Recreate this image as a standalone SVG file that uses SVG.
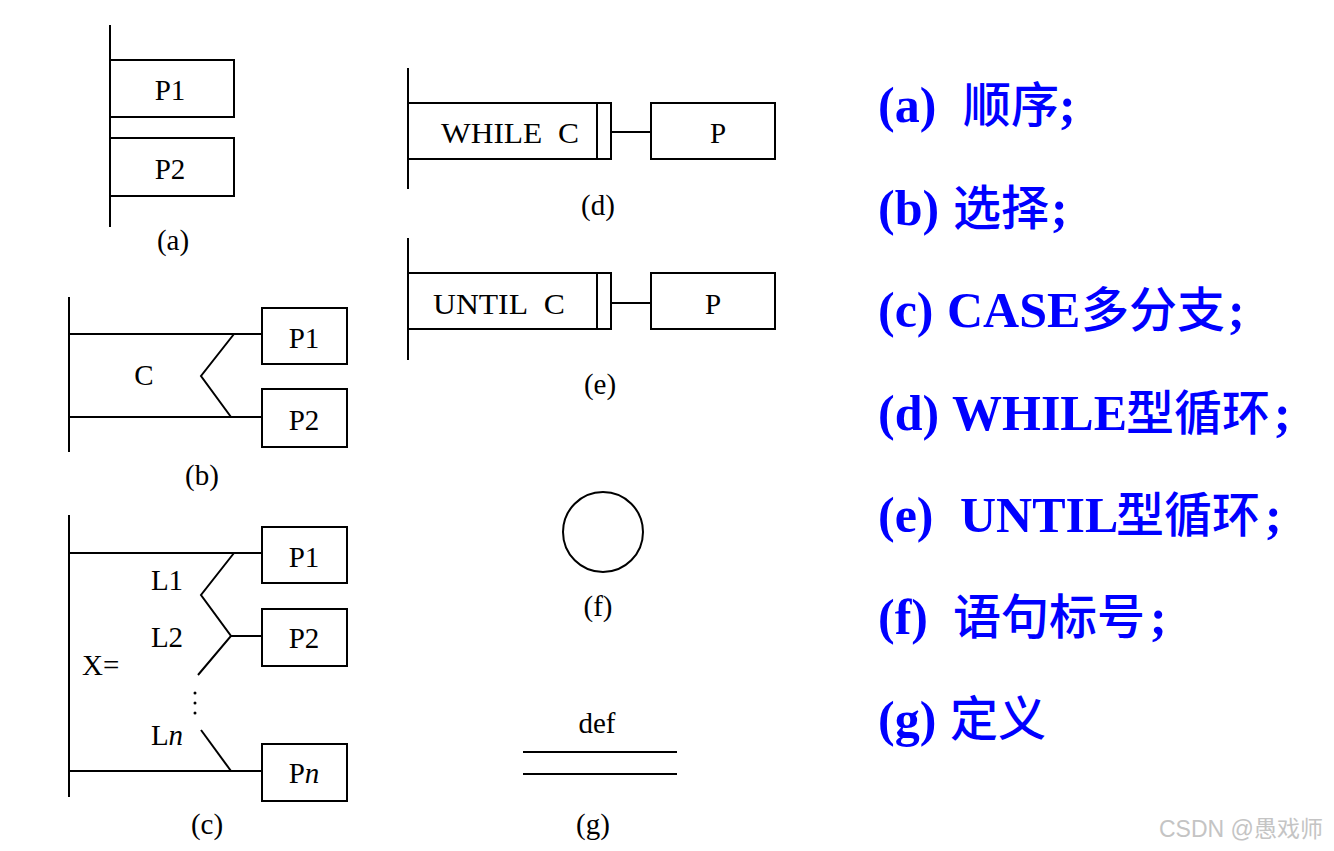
<svg xmlns="http://www.w3.org/2000/svg" width="1334" height="851" viewBox="0 0 1334 851">
<style>
.ln{stroke:#000;stroke-width:2;fill:none}
.bx{stroke:#000;stroke-width:2;fill:#fff}
.t{font-family:"Liberation Serif","Times New Roman",serif;fill:#000;font-size:29px}
.m{text-anchor:middle}
.lg{font-family:"Liberation Serif","Times New Roman",serif;font-size:50px;font-weight:bold;fill:#0000ff}
.cj{font-family:"Noto Sans CJK SC","Noto Sans CJK TC",sans-serif;font-weight:500;font-size:48px}
.wm{font-family:"Liberation Sans","Noto Sans CJK SC",sans-serif;font-size:23px;fill:#c4c4c4}
</style>
<rect width="1334" height="851" fill="#fff"/>

<g id="connectors">
  <line class="ln" x1="110" y1="25" x2="110" y2="227"/>
  <line class="ln" x1="69" y1="297" x2="69" y2="452"/>
  <line class="ln" x1="69" y1="334" x2="262" y2="334"/>
  <line class="ln" x1="69" y1="417" x2="262" y2="417"/>
  <polyline class="ln" points="234,334 201,376 231,417"/>
  <line class="ln" x1="69" y1="515" x2="69" y2="797"/>
  <line class="ln" x1="69" y1="553" x2="262" y2="553"/>
  <line class="ln" x1="69" y1="771" x2="262" y2="771"/>
  <polyline class="ln" points="234,553 201,595 231,636 198,675"/>
  <line class="ln" x1="231" y1="636" x2="262" y2="636"/>
  <line class="ln" x1="201" y1="730" x2="231" y2="771"/>
  <line class="ln" x1="408" y1="68" x2="408" y2="189"/>
  <line class="ln" x1="611" y1="132" x2="651" y2="132"/>
  <line class="ln" x1="408" y1="238" x2="408" y2="360"/>
  <line class="ln" x1="611" y1="303" x2="651" y2="303"/>
</g>

<g id="a">
  <rect class="bx" x="110" y="60" width="124" height="57"/>
  <text class="t m" x="170" y="100">P1</text>
  <rect class="bx" x="110" y="138" width="124" height="58"/>
  <text class="t m" x="170" y="179">P2</text>
  <text class="t m" x="173" y="250">(a)</text>
</g>

<g id="b">
  <text class="t m" x="144" y="385">C</text>
  <rect class="bx" x="262" y="308" width="85" height="56"/>
  <text class="t m" x="304" y="348">P1</text>
  <rect class="bx" x="262" y="389" width="85" height="58"/>
  <text class="t m" x="304" y="430">P2</text>
  <text class="t m" x="202" y="485">(b)</text>
</g>

<g id="c">
  <text class="t m" x="167" y="590">L1</text>
  <text class="t m" x="167" y="647">L2</text>
  <text class="t" x="82" y="675">X=</text>
  <circle cx="195" cy="693" r="1.5" fill="#000"/>
  <circle cx="195" cy="703" r="1.5" fill="#000"/>
  <circle cx="195" cy="713" r="1.5" fill="#000"/>
  <text class="t m" x="167" y="745">L<tspan font-style="italic">n</tspan></text>
  <rect class="bx" x="262" y="527" width="85" height="56"/>
  <text class="t m" x="304" y="567">P1</text>
  <rect class="bx" x="262" y="609" width="85" height="57"/>
  <text class="t m" x="304" y="648">P2</text>
  <rect class="bx" x="262" y="744" width="85" height="57"/>
  <text class="t m" x="304" y="783">P<tspan font-style="italic">n</tspan></text>
  <text class="t m" x="207" y="834">(c)</text>
</g>

<g id="d">
  <rect class="bx" x="408" y="103" width="203" height="56"/>
  <line class="ln" x1="597" y1="103" x2="597" y2="159"/>
  <text class="t" x="441" y="143" textLength="138" lengthAdjust="spacingAndGlyphs">WHILE&#160; C</text>
  <rect class="bx" x="651" y="103" width="124" height="56"/>
  <text class="t m" x="718" y="143">P</text>
  <text class="t m" x="598" y="215">(d)</text>
</g>

<g id="e">
  <rect class="bx" x="408" y="273" width="203" height="56"/>
  <line class="ln" x1="597" y1="273" x2="597" y2="329"/>
  <text class="t" x="433" y="314" textLength="132" lengthAdjust="spacingAndGlyphs">UNTIL&#160; C</text>
  <rect class="bx" x="651" y="273" width="124" height="56"/>
  <text class="t m" x="713" y="314">P</text>
  <text class="t m" x="600" y="394">(e)</text>
</g>

<g id="f">
  <circle class="ln" cx="603" cy="532" r="40"/>
  <text class="t m" x="598" y="616">(f)</text>
</g>

<g id="g">
  <text class="t m" x="597" y="733">def</text>
  <line class="ln" x1="523" y1="752" x2="677" y2="752"/>
  <line class="ln" x1="523" y1="774" x2="677" y2="774"/>
  <text class="t m" x="593" y="834">(g)</text>
</g>

<g id="legend">
  <text class="lg" x="878" y="122">(a)<tspan class="cj" x="963">顺序</tspan><tspan x="1059">;</tspan></text>
  <text class="lg" x="878" y="225">(b)<tspan class="cj" x="953">选择</tspan><tspan x="1051">;</tspan></text>
  <text class="lg" x="878" y="327">(c)<tspan x="947">CASE</tspan><tspan class="cj" x="1081">多分支</tspan><tspan x="1228">;</tspan></text>
  <text class="lg" x="878" y="430">(d)<tspan x="952">WHILE</tspan><tspan class="cj" x="1126">型循环</tspan><tspan x="1274">;</tspan></text>
  <text class="lg" x="878" y="532">(e)<tspan x="960">UNTIL</tspan><tspan class="cj" x="1116">型循环</tspan><tspan x="1265">;</tspan></text>
  <text class="lg" x="878" y="634">(f)<tspan class="cj" x="953">语句标号</tspan><tspan x="1150">;</tspan></text>
  <text class="lg" x="878" y="736">(g)<tspan class="cj" x="950">定义</tspan></text>
</g>

<text class="wm" x="1159" y="837">CSDN @愚戏师</text>
</svg>
